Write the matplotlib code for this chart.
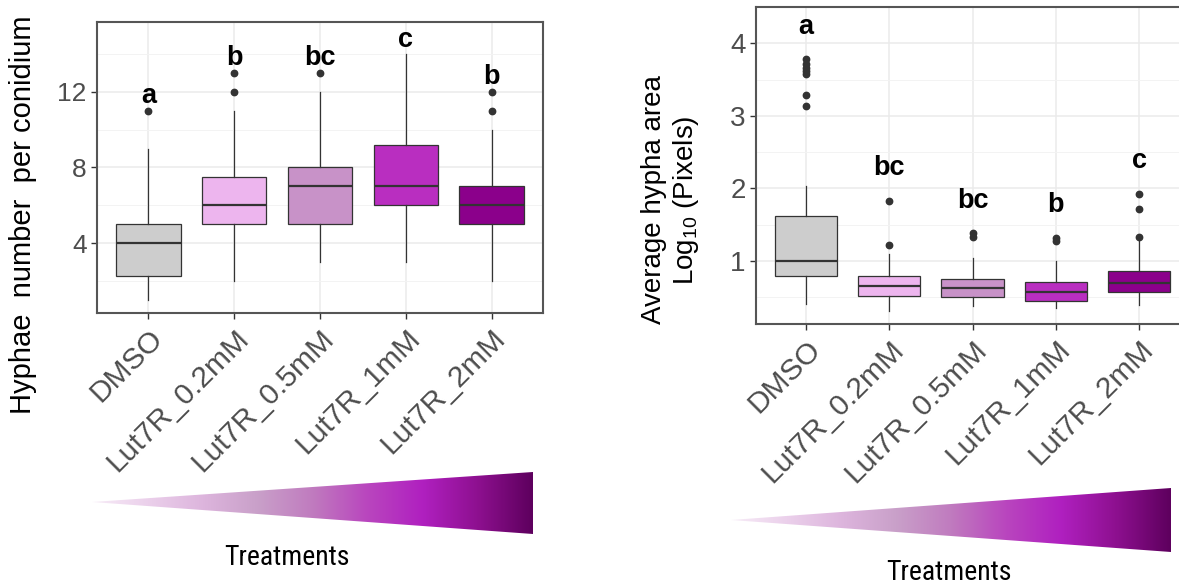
import numpy as np
import matplotlib
matplotlib.use('Agg')
import matplotlib.pyplot as plt
from matplotlib.colors import LinearSegmentedColormap
from matplotlib.patches import Polygon
from matplotlib import font_manager

plt.rcParams['font.family'] = ['Liberation Sans', 'DejaVu Sans']
plt.rcParams['mathtext.default'] = 'regular'

# categories and colours
treatments = ['DMSO', 'Lut7R_0.2mM', 'Lut7R_0.5mM', 'Lut7R_1mM', 'Lut7R_2mM']
box_colors = ['#CDCDCD', '#EDB5EE', '#C892C8', '#B92EC0', '#8B008B']

# left panel: hyphae number per conidium (box summaries)
hy_whislo = [1, 2, 3, 3, 2]
hy_q1 = [2.25, 5, 5, 6, 5]
hy_med = [4, 6, 7, 7, 6]
hy_q3 = [5, 7.5, 8, 9.2, 7]
hy_whishi = [9, 11, 12, 14, 10]
hy_fliers = [[11], [12, 13], [13], [], [11, 12]]
hy_letters = ['a', 'b', 'bc', 'c', 'b']
hy_letter_y = [11.4, 13.4, 13.4, 14.4, 12.4]

# right panel: log10 average hypha area
ar_whislo = [0.41, 0.31, 0.38, 0.35, 0.39]
ar_q1 = [0.79, 0.52, 0.50, 0.45, 0.57]
ar_med = [1.0, 0.66, 0.63, 0.57, 0.70]
ar_q3 = [1.62, 0.79, 0.75, 0.71, 0.86]
ar_whishi = [2.03, 1.10, 1.04, 1.0, 1.28]
ar_fliers = [[3.13, 3.28, 3.57, 3.62, 3.66, 3.71, 3.78], [1.22, 1.83],
             [1.33, 1.38], [1.28, 1.32], [1.33, 1.72, 1.92]]
ar_letters = ['a', 'bc', 'bc', 'b', 'c']
ar_letter_y = [4.13, 2.18, 1.73, 1.67, 2.28]

ramp_colors = ['#F7ECF7', '#EBD0EB', '#DDB5DD', '#C9A0C9', '#C07BBF',
               '#B946BE', '#B020C0', '#8E1090', '#5E005E']

# narrow face for the "Treatments" caption, if one is installed
names = {f.name for f in font_manager.fontManager.ttflist}
narrow = [n for n in ['Liberation Sans Narrow', 'DejaVu Sans Condensed',
                      'Roboto Condensed', 'Open Sans Condensed'] if n in names]
print('narrow fonts:', narrow)

W, H = 1179, 584
fig = plt.figure(figsize=(W / 100, H / 100), dpi=100)


def px_axes(x0, y0, x1, y1):
    # axes rectangle given in picture pixels (top-left origin)
    return fig.add_axes([x0 / W, 1 - y1 / H, (x1 - x0) / W, (y1 - y0) / H])


def draw_panel(ax, lo, q1, med, q3, hi, fliers, letters, letter_y,
               ylim, major, minor, ysize):
    stats = []
    for i in range(len(treatments)):
        stats.append(dict(whislo=lo[i], q1=q1[i], med=med[i], q3=q3[i],
                          whishi=hi[i], fliers=fliers[i]))
    pos = np.arange(1, len(treatments) + 1)
    bp = ax.bxp(stats, positions=pos, widths=0.75, patch_artist=True,
                showcaps=False,
                boxprops=dict(edgecolor='#333333', linewidth=0.9),
                medianprops=dict(color='#333333', linewidth=1.6),
                whiskerprops=dict(color='#333333', linewidth=0.9),
                flierprops=dict(marker='o', markersize=4.6,
                                markerfacecolor='#333333',
                                markeredgecolor='#333333'))
    for patch, c in zip(bp['boxes'], box_colors):
        patch.set_facecolor(c)
    for x, lab, y in zip(pos, letters, letter_y):
        ax.text(x, y, lab, ha='center', va='baseline', fontsize=19.5,
                fontweight='bold', color='black')
    ax.set_xlim(0.4, 5.6)
    ax.set_ylim(*ylim)
    ax.set_yticks(major)
    ax.set_yticks(minor, minor=True)
    ax.set_xticks(pos)
    ax.set_xticklabels(treatments, rotation=45, ha='right', va='top',
                       rotation_mode='anchor', fontsize=21.5, color='#4D4D4D')
    ax.tick_params(axis='y', which='major', labelsize=ysize,
                   labelcolor='#4D4D4D', length=4, width=1, color='#333333')
    ax.tick_params(axis='y', which='minor', length=0)
    ax.tick_params(axis='x', length=4, width=1, color='#333333', pad=4)
    ax.grid(True, which='major', color='#EBEBEB', linewidth=1.1)
    ax.grid(True, which='minor', axis='y', color='#F3F3F3', linewidth=0.7)
    ax.set_axisbelow(True)
    for s in ax.spines.values():
        s.set_color('#555555')
        s.set_linewidth(1.5)


ax1 = px_axes(97, 22, 543, 313)
draw_panel(ax1, hy_whislo, hy_q1, hy_med, hy_q3, hy_whishi, hy_fliers,
           hy_letters, hy_letter_y, (0.3, 15.7), [4, 8, 12], [2, 6, 10, 14], 19)

ax2 = px_axes(756, 7, 1189, 324)
draw_panel(ax2, ar_whislo, ar_q1, ar_med, ar_q3, ar_whishi, ar_fliers,
           ar_letters, ar_letter_y, (0.13, 4.5), [1, 2, 3, 4],
           [0.5, 1.5, 2.5, 3.5], 20)
ax2.spines['right'].set_visible(False)

# overlay in pixel units for the axis titles and the treatment ramps
over = fig.add_axes([0, 0, 1, 1])
over.patch.set_visible(False)
over.axis('off')

cmap = LinearSegmentedColormap.from_list('ramp', ramp_colors)
ramp = np.linspace(0, 1, 256).reshape(1, -1)
cap_size = 20 if narrow else 17


def draw_ramp(tip, x_right, y_top, y_bottom, label_xy):
    tri = Polygon([tip, (x_right, y_top), (x_right, y_bottom)], closed=True,
                  facecolor='none', edgecolor='none')
    over.add_patch(tri)
    im = over.imshow(ramp, cmap=cmap, aspect='auto', interpolation='bilinear',
                     extent=(tip[0], x_right, y_bottom, y_top))
    im.set_clip_path(tri)
    over.text(label_xy[0], label_xy[1], 'Treatments', ha='center',
              va='baseline', fontsize=cap_size, color='black',
              family=narrow + ['Liberation Sans', 'DejaVu Sans'])


draw_ramp((92, 502), 533, 472, 534, (287, 565))
draw_ramp((731, 520), 1171, 488, 552, (949, 580))

over.text(23, 215, 'Hyphae  number  per conidium', rotation=90,
          ha='center', va='center', fontsize=21, color='black')
over.text(671, 200, 'Average hypha area\nLog$_{10}$ (Pixels)', rotation=90,
          ha='center', va='center', multialignment='center', fontsize=20,
          linespacing=1.15, color='black')

over.set_xlim(0, W)
over.set_ylim(H, 0)

fig.savefig('out.png', dpi=100)
